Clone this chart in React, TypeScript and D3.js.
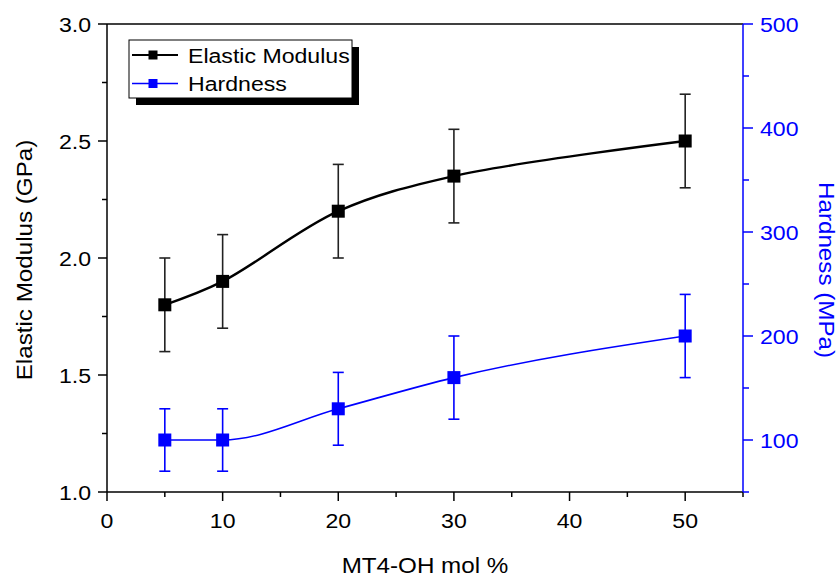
import * as d3 from 'd3';
import React, { useEffect, useRef } from 'react';

// MT4-OH content (mol %)
const molPercent = [5, 10, 20, 30, 50];
// Elastic modulus (GPa) with error
const modulus = [1.8, 1.9, 2.2, 2.35, 2.5];
const modulusErr = [0.2, 0.2, 0.2, 0.2, 0.2];
// Hardness (MPa) with error
const hardness = [100, 100, 130, 160, 200];
const hardnessErr = [30, 30, 35, 40, 40];

const xTicks = [0, 10, 20, 30, 40, 50];
const leftTicks = [1.0, 1.5, 2.0, 2.5, 3.0];
const rightTicks = [100, 200, 300, 400, 500];
const legendNames = ['Elastic Modulus', 'Hardness'];

const BLUE = '#0000ff';
const SX = 1.1; // the original text is a little wider than plain Arial

function App() {
    const ref = useRef(null);

    useEffect(() => {
        const svg = d3.select(ref.current);
        svg.selectAll('*').remove();

        const left = 107, right = 743, top = 24, bottom = 492;
        const x = d3.scaleLinear().domain([0, 55]).range([left, right]);
        const yL = d3.scaleLinear().domain([1, 3]).range([bottom, top]);
        const yR = d3.scaleLinear().domain([50, 500]).range([bottom, top]);

        const font = 'Liberation Sans, Arial, sans-serif';
        const label = (txt, px, py, size, anchor, color, rot = 0) => {
            svg.append('g')
                .attr('transform', `translate(${px},${py}) rotate(${rot}) scale(${SX},1)`)
                .append('text')
                .attr('font-family', font)
                .attr('font-size', size)
                .attr('text-anchor', anchor)
                .attr('fill', color)
                .text(txt);
        };

        // frame lines
        svg.append('line').attr('x1', left).attr('x2', right).attr('y1', top).attr('y2', top)
            .attr('stroke', '#000').attr('stroke-width', 1.5);

        // bottom axis
        const minorX = d3.range(0, 56, 5);
        svg.append('g').selectAll('line').data(minorX).enter().append('line')
            .attr('x1', d => x(d)).attr('x2', d => x(d))
            .attr('y1', bottom).attr('y2', d => bottom + (d % 10 === 0 ? 9 : 5))
            .attr('stroke', '#000').attr('stroke-width', 1.5);
        svg.append('line').attr('x1', left).attr('x2', right).attr('y1', bottom).attr('y2', bottom)
            .attr('stroke', '#000').attr('stroke-width', 1.5);
        xTicks.forEach(t => label(String(t), x(t), 528, 21, 'middle', '#000'));
        label('MT4-OH mol %', (left + right) / 2, 573, 22, 'middle', '#000');

        // left axis
        const minorL = d3.range(1, 3.01, 0.25);
        svg.append('g').selectAll('line').data(minorL).enter().append('line')
            .attr('x1', left).attr('x2', (d, i) => left - (i % 2 === 0 ? 9 : 5))
            .attr('y1', d => yL(d)).attr('y2', d => yL(d))
            .attr('stroke', '#000').attr('stroke-width', 1.5);
        svg.append('line').attr('x1', left).attr('x2', left).attr('y1', top).attr('y2', bottom)
            .attr('stroke', '#000').attr('stroke-width', 1.5);
        leftTicks.forEach(t => label(t.toFixed(1), 91, yL(t) + 7.5, 21, 'end', '#000'));
        label('Elastic Modulus (GPa)', 32, 260, 22, 'middle', '#000', -90);

        // right axis
        const minorR = d3.range(50, 501, 50);
        svg.append('g').selectAll('line').data(minorR).enter().append('line')
            .attr('x1', right).attr('x2', d => right + (d % 100 === 0 ? 10 : 6))
            .attr('y1', d => yR(d)).attr('y2', d => yR(d))
            .attr('stroke', BLUE).attr('stroke-width', 1.5);
        svg.append('line').attr('x1', right).attr('x2', right).attr('y1', top).attr('y2', bottom)
            .attr('stroke', BLUE).attr('stroke-width', 1.5);
        rightTicks.forEach(t => label(String(t), 760, yR(t) + 7.5, 21, 'start', BLUE));
        label('Hardness (MPa)', 819, 270, 22, 'middle', BLUE, 90);

        const drawSeries = (vals, errs, y, color, lineW, errColor, curve) => {
            const pts = molPercent.map((m, i) => [x(m), y(vals[i])]);
            const line = d3.line().curve(curve);
            svg.append('path').attr('d', line(pts)).attr('fill', 'none')
                .attr('stroke', color).attr('stroke-width', lineW);

            const g = svg.append('g').attr('stroke', errColor).attr('stroke-width', 1.6);
            molPercent.forEach((m, i) => {
                const cx = x(m);
                const y1 = y(vals[i] + errs[i]), y2 = y(vals[i] - errs[i]);
                g.append('line').attr('x1', cx).attr('x2', cx).attr('y1', y1).attr('y2', y2);
                g.append('line').attr('x1', cx - 5.5).attr('x2', cx + 5.5).attr('y1', y1).attr('y2', y1);
                g.append('line').attr('x1', cx - 5.5).attr('x2', cx + 5.5).attr('y1', y2).attr('y2', y2);
            });

            svg.append('g').selectAll('rect').data(pts).enter().append('rect')
                .attr('x', d => d[0] - 6.5).attr('y', d => d[1] - 6.5)
                .attr('width', 13).attr('height', 13).attr('fill', color);
        };

        drawSeries(modulus, modulusErr, yL, '#000', 2.4, '#222', d3.curveCatmullRom.alpha(0.5));
        drawSeries(hardness, hardnessErr, yR, BLUE, 1.6, BLUE, d3.curveMonotoneX);

        // legend with drop shadow
        const lx = 129, ly = 40, lw = 223, lh = 58;
        svg.append('rect').attr('x', lx + 7).attr('y', ly + 7).attr('width', lw).attr('height', lh).attr('fill', '#000');
        svg.append('rect').attr('x', lx).attr('y', ly).attr('width', lw).attr('height', lh)
            .attr('fill', '#fff').attr('stroke', '#000').attr('stroke-width', 1);
        const legendColors = ['#000', BLUE];
        legendNames.forEach((name, i) => {
            const cy = 55 + i * 28.5;
            svg.append('line').attr('x1', 132).attr('x2', 178).attr('y1', cy).attr('y2', cy)
                .attr('stroke', legendColors[i]).attr('stroke-width', i === 0 ? 2 : 1.4);
            svg.append('rect').attr('x', 148.5).attr('y', cy - 4.5).attr('width', 9).attr('height', 9)
                .attr('fill', legendColors[i]);
            label(name, 188, cy + 7.5, 21, 'start', '#000');
        });
    }, []);

    return (
        <svg ref={ref} width={840} height={578}
            style={{ position: 'absolute', left: 0, top: 0, background: '#fff' }}></svg>
    );
}

export default App;
